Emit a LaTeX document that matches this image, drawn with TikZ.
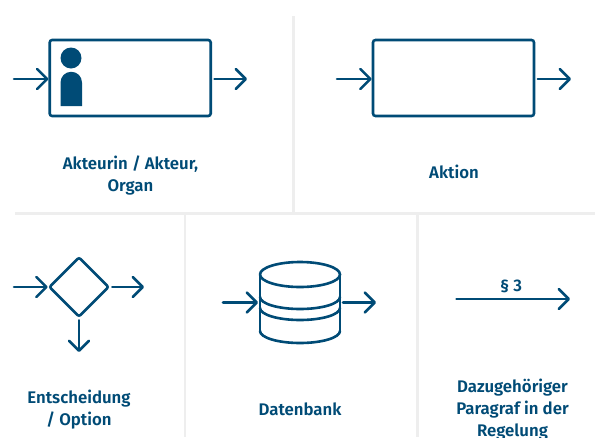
\documentclass[tikz,border=0pt]{standalone}
\usepackage{fontspec}
\setmainfont{Fira Sans}
\usetikzlibrary{shapes.geometric,arrows.meta}
\definecolor{navy}{HTML}{004B76}
\definecolor{grid}{HTML}{EEEEEE}
\tikzset{
  gridline/.style={draw=grid,line width=2.6pt},
  flowbox/.style={draw=navy,line width=2.6pt,rounded corners=2.5pt,inner sep=0pt,minimum width=161pt,minimum height=76pt},
  gate/.style={diamond,draw=navy,line width=2.6pt,rounded corners=2pt,inner sep=0pt,minimum width=60pt,minimum height=60pt},
  flow/.style={draw=navy,line width=2.6pt,line cap=round,-{Straight Barb[length=10pt,width=20pt,line width=2.6pt,round]}},
  lbl/.style={text=navy,font=\fontspec{Fira Sans SemiBold}\fontsize{16.8pt}{22pt}\selectfont,align=center,inner sep=0pt},
  cyl/.style={draw=navy,line width=2.6pt,line cap=round}
}
\begin{document}
\begin{tikzpicture}[x=1pt,y=-1pt]
\useasboundingbox (0,0) rectangle (595,437);
\fill[white] (0,0) rectangle (595,437);
% grid
\draw[gridline] (293.5,16) -- (293.5,213);
\draw[gridline] (15,213.5) -- (595,213.5);
\draw[gridline] (185,213) -- (185,437);
\draw[gridline] (417.5,213) -- (417.5,437);
% actor
\node[flowbox] (actor) at (130.2,78) {};
\fill[navy] (71,58) circle (10.5);
\fill[navy] (60.5,106) -- (60.5,82.5) arc[start angle=180,end angle=360,x radius=10.75,y radius=10.75] -- (82,106) -- cycle;
\coordinate (a1) at (14,79); \coordinate (a2) at (247,79);
\draw[flow] (a1) -- (actor.west |- a1);
\draw[flow] (actor.east |- a2) ++(2.5,0) -- (a2);
\node[lbl] (t1) at (130.5,175.5) {Akteurin / Akteur,\\Organ};
% action
\node[flowbox] (action) at (453.5,78) {};
\coordinate (b1) at (337,79); \coordinate (b2) at (571,79);
\draw[flow] (b1) -- (action.west |- b1);
\draw[flow] (action.east |- b2) ++(2.5,0) -- (b2);
\node[lbl] (t2) at (454,172) {Aktion};
% decision
\node[gate] (dec) at (79,287) {};
\coordinate (c1) at (14,287); \coordinate (c2) at (144,287); \coordinate (c3) at (79,352);
\draw[flow] (c1) -- (dec.west);
\draw[flow] (dec.east) ++(2,0) -- (c2);
\draw[flow] (dec.south) ++(0,2) -- (c3);
\node[lbl] (t3) at (79,409.5) {Entscheidung\\/ Option};
% database
\draw[cyl] (260,274.5) arc[start angle=180,end angle=-180,x radius=40,y radius=12.5];
\draw[cyl] (260,274.5) -- (260,331);
\draw[cyl] (340,274.5) -- (340,331);
\draw[cyl] (260,331) arc[start angle=180,end angle=360,x radius=40,y radius=-12];
\draw[cyl] (260,297) arc[start angle=180,end angle=360,x radius=40,y radius=-12];
\draw[cyl] (260,308) arc[start angle=180,end angle=360,x radius=40,y radius=-12];
\coordinate (d1) at (223,302.5); \coordinate (d1e) at (258,302.5);
\coordinate (d2s) at (343,302.5); \coordinate (d2) at (376,302.5);
\draw[flow] (d1) -- (d1e);
\draw[flow] (d2s) -- (d2);
\node[lbl] (t4) at (300,409) {Datenbank};
% paragraph
\coordinate (e1) at (456.5,299); \coordinate (e2) at (570,299);
\draw[flow] (e1) -- node[lbl,font=\fontspec{Fira Sans SemiBold}\fontsize{16.8pt}{18pt}\selectfont,pos=0.48,yshift=13pt] (p) {§ 3} (e2);
\node[lbl] (t5) at (512.5,409.5) {Dazugehöriger\\Paragraf in der\\Regelung};
\end{tikzpicture}
\end{document}
